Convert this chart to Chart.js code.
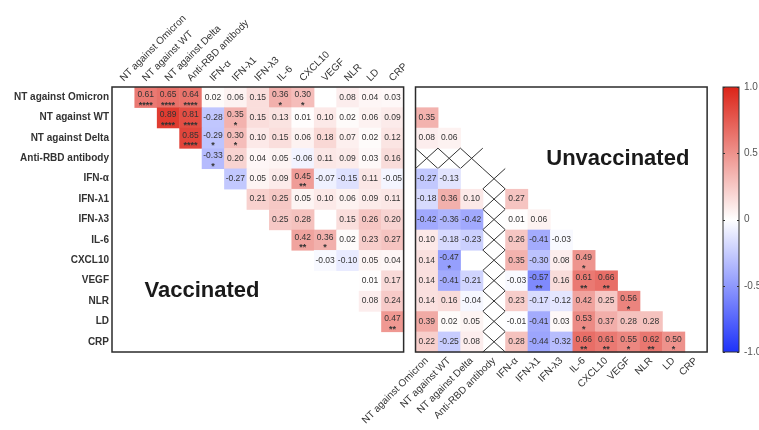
<!DOCTYPE html>
<html>
<head>
<meta charset="utf-8">
<script src="https://cdn.jsdelivr.net/npm/chart.js@4/dist/chart.umd.min.js"></script>
<style>
  html, body { margin: 0; padding: 0; background: #fff; }
  #wrap { width: 759px; height: 430px; }
</style>
</head>
<body>
<div id="wrap"><canvas id="myChart" width="759" height="430"></canvas></div>
<script>
// same order for rows and columns in both panels
const varNames = ['NT against Omicron', 'NT against WT', 'NT against Delta', 'Anti-RBD antibody',
  'IFN-α', 'IFN-λ1', 'IFN-λ3', 'IL-6', 'CXCL10', 'VEGF', 'NLR', 'LD', 'CRP'];

// vaccinated: upper triangle, row i holds r for columns i+1 .. 12 (null = left blank)
const vaccinatedR = [
  [0.61, 0.65, 0.64, 0.02, 0.06, 0.15, 0.36, 0.30, null, 0.08, 0.04, 0.03],
  [0.89, 0.81, -0.28, 0.35, 0.15, 0.13, 0.01, 0.10, 0.02, 0.06, 0.09],
  [0.85, -0.29, 0.30, 0.10, 0.15, 0.06, 0.18, 0.07, 0.02, 0.12],
  [-0.33, 0.20, 0.04, 0.05, -0.06, 0.11, 0.09, 0.03, 0.16],
  [-0.27, 0.05, 0.09, 0.45, -0.07, -0.15, 0.11, -0.05],
  [0.21, 0.25, 0.05, 0.10, 0.06, 0.09, 0.11],
  [0.25, 0.28, null, 0.15, 0.26, 0.20],
  [0.42, 0.36, 0.02, 0.23, 0.27],
  [-0.03, -0.10, 0.05, 0.04],
  [null, 0.01, 0.17],
  [0.08, 0.24],
  [0.47],
  []
];
// number of significance stars, same shape as vaccinatedR
const vaccinatedStars = [
  [4, 4, 4, 0, 0, 0, 1, 1, 0, 0, 0, 0],
  [4, 4, 0, 1, 0, 0, 0, 0, 0, 0, 0],
  [4, 1, 1, 0, 0, 0, 0, 0, 0, 0],
  [1, 0, 0, 0, 0, 0, 0, 0, 0],
  [0, 0, 0, 2, 0, 0, 0, 0],
  [0, 0, 0, 0, 0, 0, 0],
  [0, 0, 0, 0, 0, 0],
  [2, 1, 0, 0, 0],
  [0, 0, 0, 0],
  [0, 0, 0],
  [0, 0],
  [2],
  []
];

// unvaccinated: lower triangle, row i holds r for columns 0 .. i-1
const unvaccinatedR = [
  [],
  [0.35],
  [0.08, 0.06],
  [null, null, null],
  [-0.27, -0.13, null, null],
  [-0.18, 0.36, 0.10, null, 0.27],
  [-0.42, -0.36, -0.42, null, 0.01, 0.06],
  [0.10, -0.18, -0.23, null, 0.26, -0.41, -0.03],
  [0.14, -0.47, null, null, 0.35, -0.30, 0.08, 0.49],
  [0.14, -0.41, -0.21, null, -0.03, -0.57, 0.16, 0.61, 0.66],
  [0.14, 0.16, -0.04, null, 0.23, -0.17, -0.12, 0.42, 0.25, 0.56],
  [0.39, 0.02, 0.05, null, -0.01, -0.41, 0.03, 0.53, 0.37, 0.28, 0.28],
  [0.22, -0.25, 0.08, null, 0.28, -0.44, -0.32, 0.66, 0.61, 0.55, 0.62, 0.50]
];
const unvaccinatedStars = [
  [],
  [0],
  [0, 0],
  [0, 0, 0],
  [0, 0, 0, 0],
  [0, 0, 0, 0, 0],
  [0, 0, 0, 0, 0, 0],
  [0, 0, 0, 0, 0, 0, 0],
  [0, 1, 0, 0, 0, 0, 0, 1],
  [0, 0, 0, 0, 0, 2, 0, 2, 2],
  [0, 0, 0, 0, 0, 0, 0, 0, 0, 1],
  [0, 0, 0, 0, 0, 0, 0, 1, 0, 0, 0],
  [0, 0, 0, 0, 0, 0, 0, 2, 2, 1, 2, 1]
];
const missingVar = 3; // anti-RBD antibody not available for unvaccinated -> crossed out

const colorTicks = [-1, -0.5, 0, 0.5, 1];
const colorTickLabels = ['-1.0', '-0.5', '0', '0.5', '1.0'];

const unvacOffset = 13.53; // right panel columns sit after the left one on the shared x range
const xMax = 27.54;
const FONT = 'Liberation Sans, Arial, sans-serif';

function heatColor(v) {
  let a = Math.min(1, Math.abs(v));
  let end = v >= 0 ? [220, 36, 24] : [30, 50, 250];
  let c = end.map(e => Math.round(255 - a * (255 - e)));
  return 'rgb(' + c.join(',') + ')';
}

function cellBox(xs, ys, col, row) {
  let x0 = xs.getPixelForValue(col - 0.5), x1 = xs.getPixelForValue(col + 0.5);
  let y0 = ys.getPixelForValue(row - 0.5), y1 = ys.getPixelForValue(row + 0.5);
  return { x: Math.min(x0, x1), y: Math.min(y0, y1), w: Math.abs(x1 - x0), h: Math.abs(y1 - y0) };
}

function drawCell(ctx, b, v, stars) {
  ctx.fillStyle = heatColor(v);
  ctx.fillRect(b.x, b.y, b.w + 0.5, b.h + 0.5);
  let cx = b.x + b.w / 2, cy = b.y + b.h / 2;
  ctx.fillStyle = '#333';
  ctx.textAlign = 'center';
  ctx.textBaseline = 'middle';
  ctx.font = '8.5px ' + FONT;
  if (stars > 0) {
    ctx.fillText(v.toFixed(2), cx, cy - 2.5);
    ctx.font = 'bold 9px ' + FONT;
    ctx.fillText('*'.repeat(stars), cx, cy + 8);
  } else {
    ctx.fillText(v.toFixed(2), cx, cy);
  }
}

function drawCross(ctx, b) {
  ctx.strokeStyle = '#333';
  ctx.lineWidth = 1;
  ctx.beginPath();
  ctx.moveTo(b.x, b.y); ctx.lineTo(b.x + b.w, b.y + b.h);
  ctx.moveTo(b.x + b.w, b.y); ctx.lineTo(b.x, b.y + b.h);
  ctx.stroke();
}

const heatmapPlugin = {
  id: 'heatmap',
  beforeDatasetsDraw(chart) {
    const ctx = chart.ctx;
    const xv = chart.scales.xv, xu = chart.scales.xu, y = chart.scales.y;
    ctx.save();

    // vaccinated, upper triangle
    vaccinatedR.forEach((row, i) => {
      row.forEach((v, k) => {
        if (v === null) return;
        let col = i + 1 + k;
        drawCell(ctx, cellBox(xv, y, col, i), v, vaccinatedStars[i][k]);
      });
    });

    // unvaccinated, lower triangle
    unvaccinatedR.forEach((row, i) => {
      row.forEach((v, j) => {
        let b = cellBox(xu, y, unvacOffset + j, i);
        if (i === missingVar || j === missingVar) { drawCross(ctx, b); return; }
        if (v === null) return;
        drawCell(ctx, b, v, unvaccinatedStars[i][j]);
      });
    });

    // panel frames
    ctx.strokeStyle = '#2b2b2b';
    ctx.lineWidth = 1.5;
    let top = y.getPixelForValue(-0.5), bottom = y.getPixelForValue(12.5);
    let l1 = xv.getPixelForValue(-0.5), r1 = xv.getPixelForValue(12.5);
    let l2 = xu.getPixelForValue(unvacOffset - 0.5), r2 = xu.getPixelForValue(unvacOffset + 12.5);
    ctx.strokeRect(l1, top, r1 - l1, bottom - top);
    ctx.strokeRect(l2, top, r2 - l2, bottom - top);

    // panel titles
    ctx.fillStyle = '#1a1a1a';
    ctx.font = 'bold 22px ' + FONT;
    ctx.textAlign = 'left';
    ctx.textBaseline = 'middle';
    ctx.fillText('Vaccinated', xv.getPixelForValue(0.95), y.getPixelForValue(9.52));
    ctx.fillText('Unvaccinated', xu.getPixelForValue(unvacOffset + 5.33), y.getPixelForValue(3.05));

    // colour bar
    const yc = chart.scales.yc;
    let bx0 = chart.chartArea.right - 18, bx1 = chart.chartArea.right - 2;
    let by0 = yc.getPixelForValue(1), by1 = yc.getPixelForValue(-1);
    let grad = ctx.createLinearGradient(0, by0, 0, by1);
    [1, 0.5, 0, -0.5, -1].forEach((v, k) => grad.addColorStop(k / 4, heatColor(v)));
    ctx.fillStyle = grad;
    ctx.fillRect(bx0, by0, bx1 - bx0, by1 - by0);
    ctx.strokeStyle = '#333';
    ctx.lineWidth = 1;
    ctx.strokeRect(bx0, by0, bx1 - bx0, by1 - by0);
    ctx.beginPath();
    colorTicks.forEach(v => {
      let py = Math.round(yc.getPixelForValue(v)) + 0.5;
      ctx.moveTo(bx0, py); ctx.lineTo(bx0 + 2, py);
      ctx.moveTo(bx1 - 2, py); ctx.lineTo(bx1, py);
    });
    ctx.stroke();
    ctx.restore();
  }
};

const noGrid = { display: false, drawTicks: false };

let myChart = new Chart(document.getElementById('myChart').getContext('2d'), {
  type: 'scatter',
  data: { datasets: [] },
  options: {
    responsive: false,
    animation: false,
    layout: { padding: 0 },
    plugins: { legend: { display: false }, tooltip: { enabled: false } },
    scales: {
      xv: {
        axis: 'x', type: 'linear', position: 'top', min: -0.5, max: xMax,
        grid: noGrid, border: { display: false },
        afterBuildTicks: s => { s.ticks = varNames.map((_, i) => ({ value: i })); },
        afterFit: s => { s.height = 87; },
        ticks: {
          autoSkip: false, minRotation: 45, maxRotation: 45, padding: 3, labelOffset: 7, color: '#333',
          font: { size: 10, family: FONT },
          callback: (v, i) => varNames[i]
        }
      },
      xu: {
        axis: 'x', type: 'linear', position: 'bottom', min: -0.5, max: xMax,
        grid: noGrid, border: { display: false },
        afterBuildTicks: s => { s.ticks = varNames.map((_, i) => ({ value: unvacOffset + i })); },
        afterFit: s => { s.height = 78; },
        ticks: {
          autoSkip: false, minRotation: 45, maxRotation: 45, padding: 3, color: '#333',
          font: { size: 10, family: FONT },
          callback: (v, i) => varNames[i]
        }
      },
      y: {
        axis: 'y', type: 'linear', position: 'left', reverse: true, min: -0.5, max: 12.5,
        grid: noGrid, border: { display: false },
        afterBuildTicks: s => { s.ticks = varNames.map((_, i) => ({ value: i })); },
        afterFit: s => { s.width = 112; },
        ticks: {
          autoSkip: false, padding: 3, color: '#333',
          font: { size: 10, weight: 'bold', family: FONT },
          callback: (v, i) => varNames[i]
        }
      },
      yc: {
        axis: 'y', type: 'linear', position: 'right', min: -1, max: 1,
        grid: noGrid, border: { display: false },
        afterBuildTicks: s => { s.ticks = colorTicks.map(v => ({ value: v })); },
        afterFit: s => { s.width = 18; },
        ticks: {
          padding: 3, color: '#555',
          font: { size: 10, family: FONT },
          callback: (v, i) => colorTickLabels[i]
        }
      }
    }
  },
  plugins: [heatmapPlugin]
});
</script>
</body>
</html>
